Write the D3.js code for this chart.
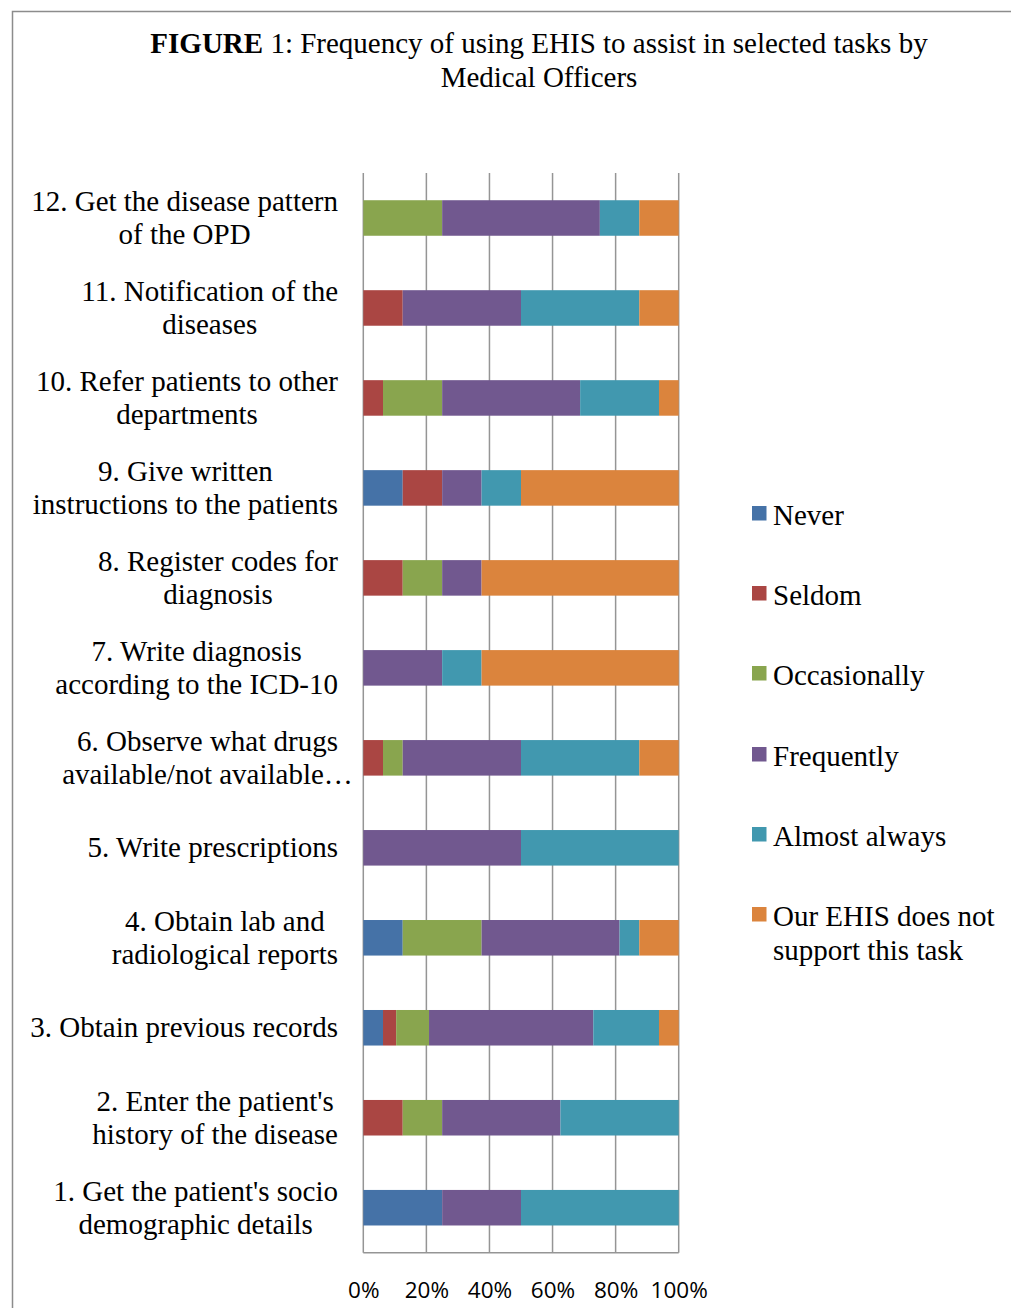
<!DOCTYPE html>
<html><head><meta charset="utf-8">
<script src="https://cdn.jsdelivr.net/npm/d3@7"></script>
<style>body{margin:0;background:#fff;} svg{display:block;}</style>
</head><body>
<script>
const categories = [
  ["1. Get the patient's socio", "demographic details"],
  ["2. Enter the patient's", "history of the disease"],
  ["3. Obtain previous records"],
  ["4. Obtain lab and", "radiological reports"],
  ["5. Write prescriptions"],
  ["6. Observe what drugs", "available/not available\u2026"],
  ["7. Write diagnosis", "according to the ICD-10"],
  ["8. Register codes for", "diagnosis"],
  ["9. Give written", "instructions to the patients"],
  ["10. Refer patients to other", "departments"],
  ["11. Notification of the", "diseases"],
  ["12. Get the disease pattern", "of the OPD"]
];
const seriesNames = ["Never", "Seldom", "Occasionally", "Frequently", "Almost always", "Our EHIS does not support this task"];
const seriesColors = ["#4572A7", "#AA4643", "#89A54E", "#71588F", "#4198AF", "#DB843D"];
// percentages per category (1..12), order of seriesNames
const never        = [25,   0,    6.25, 12.5, 0,  0,    0,    0,    12.5, 0,     0,    0];
const seldom       = [0,    12.5, 4.17, 0,    0,  6.25, 0,    12.5, 12.5, 6.25,  12.5, 0];
const occasionally = [0,    12.5, 10.42,25,   0,  6.25, 0,    12.5, 0,    18.75, 0,    25];
const frequently   = [25,   37.5, 52.08,43.75,50, 37.5, 25,   12.5, 12.5, 43.75, 37.5, 50];
const almostAlways = [50,   37.5, 20.83,6.25, 50, 37.5, 12.5, 0,    12.5, 25,    37.5, 12.5];
const notSupported = [0,    0,    6.25, 12.5, 0,  12.5, 62.5, 62.5, 50,   6.25,  12.5, 12.5];
const xTicks = [0, 20, 40, 60, 80, 100];

const W = 1011, H = 1308;
const serif = "'Liberation Serif','Times New Roman',serif";
const svg = d3.select("body").append("svg").attr("width", W).attr("height", H);

// frame
svg.append("path").attr("d", `M12.5,${H} V11.5 H${W}`).attr("fill","none").attr("stroke","#8c8c8c").attr("stroke-width",1.5);

// title
const title = svg.append("text").attr("x", 539).attr("y", 53).attr("text-anchor","middle")
  .attr("font-family", serif).attr("font-size",29).attr("fill","#000");
title.append("tspan").attr("font-weight","bold").text("FIGURE");
title.append("tspan").text(" 1: Frequency of using EHIS to assist in selected tasks by");
svg.append("text").attr("x", 539).attr("y", 87).attr("text-anchor","middle")
  .attr("font-family", serif).attr("font-size",29).attr("fill","#000")
  .text("Medical Officers");

const plotL = 363.3, plotR = 678.7, plotT = 173, plotB = 1252.7;
const x = d3.scaleLinear().domain([0, 100]).range([plotL, plotR]);
const idx = d3.range(categories.length);
const y = d3.scaleBand().domain(idx.slice().reverse()).range([plotT, plotB]).paddingInner(0.605).paddingOuter(0.3025);

const data = idx.map(i => ({
  i,
  "Never": never[i], "Seldom": seldom[i], "Occasionally": occasionally[i],
  "Frequently": frequently[i], "Almost always": almostAlways[i],
  "Our EHIS does not support this task": notSupported[i]
}));
const stack = d3.stack().keys(seriesNames)(data);

// gridlines
const gx = svg.append("g");
gx.selectAll("line").data(xTicks).join("line")
  .attr("x1", d => x(d)).attr("x2", d => x(d)).attr("y1", plotT).attr("y2", plotB)
  .attr("stroke", "#959595").attr("stroke-width", 1.5);
svg.append("line").attr("x1", plotL).attr("x2", plotR).attr("y1", plotB).attr("y2", plotB)
  .attr("stroke", "#959595").attr("stroke-width", 1.5);

// bars
stack.forEach((layer, k) => {
  svg.append("g").attr("fill", seriesColors[k]).selectAll("rect").data(layer).join("rect")
    .attr("x", d => x(d[0])).attr("width", d => Math.max(0, x(d[1]) - x(d[0])))
    .attr("y", d => y(d.data.i)).attr("height", y.bandwidth());
});

// x axis labels
const xAxis = d3.axisBottom(x).tickValues(xTicks).tickFormat(d => d + "%").tickSize(0).tickPadding(0);
const ax = svg.append("g").attr("transform", `translate(0,${plotB + 37})`).call(xAxis);
ax.select(".domain").remove();
ax.selectAll("text").attr("font-family","'Open Sans','Liberation Sans',sans-serif").attr("font-size",22.5).attr("fill","#000").attr("dy","0.35em");

// category labels
const labG = svg.append("g").attr("font-family", serif).attr("font-size",29).attr("fill","#000");
const rightEdge = 338;
idx.forEach(i => {
  const lines = categories[i];
  const cy = y(i) + y.bandwidth() / 2;
  const texts = lines.map((ln, j) => labG.append("text").attr("text-anchor","middle")
    .attr("y", cy + (j - (lines.length - 1) / 2) * 33).attr("dy","0.33em").text(ln));
  const widths = texts.map(t => t.node().getComputedTextLength());
  let maxW = d3.max(widths);
  if (lines[1] && lines[1].endsWith("\u2026")) maxW = widths[0];
  texts.forEach(t => t.attr("x", rightEdge - maxW / 2));
});

// legend
const leg = svg.append("g").attr("font-family", serif).attr("font-size",29).attr("fill","#000");
const legY = [515, 595, 675, 756, 836, 916];
seriesNames.forEach((n, k) => {
  leg.append("rect").attr("x", 752).attr("y", legY[k] - 9).attr("width", 14.5).attr("height", 14.5).attr("fill", seriesColors[k]);
  if (k === 5) {
    leg.append("text").attr("x", 773).attr("y", legY[k]).attr("dy","0.33em").text("Our EHIS does not");
    leg.append("text").attr("x", 773).attr("y", legY[k] + 34).attr("dy","0.33em").text("support this task");
  } else {
    leg.append("text").attr("x", 773).attr("y", legY[k]).attr("dy","0.33em").text(n);
  }
});
</script>
</body></html>
